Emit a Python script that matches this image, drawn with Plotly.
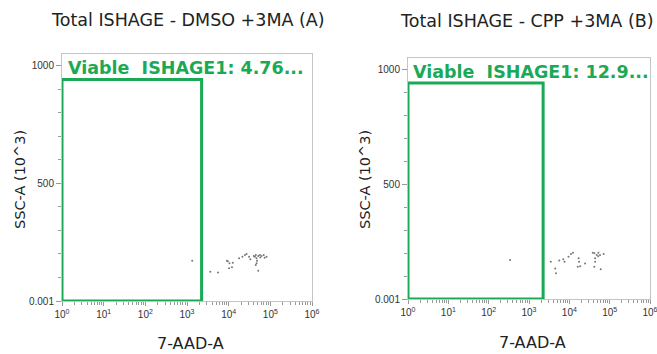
import plotly.graph_objects as go

# ---- data ----
titles = ["Total ISHAGE - DMSO +3MA (A)", "Total ISHAGE - CPP +3MA (B)"]
gate_labels = ["Viable\u00a0 ISHAGE1: 4.76...", "Viable\u00a0 ISHAGE1: 12.9..."]
x_title = "7-AAD-A"
y_title = "SSC-A (10^3)"

gate_x = [1, 2240]
gate_y = [0, 940]

a_x = [1334, 3620, 5540, 9100, 10470, 10230, 12590, 17780, 21380, 24550, 26920,
       30900, 33110, 44670, 51290, 56230, 61660, 46770, 47860, 46770, 44670,
       51290, 69180, 81280, 57540, 42660, 9550, 12000, 40000, 73000]
a_y = [171, 124, 121, 171, 160, 139, 162, 181, 188, 195, 199,
       188, 177, 195, 191, 195, 191, 181, 171, 160, 153,
       128, 195, 188, 185, 188, 169, 143, 191, 184]

b_x = [339, 3470, 4470, 4680, 5620, 7080, 7590, 9550, 10960, 12300, 16980,
       17380, 16220, 18620, 24550, 41690, 47860, 52480, 57540, 70790, 43650,
       43650, 41690, 38020, 52000, 60000]
b_y = [170, 162, 133, 112, 167, 173, 162, 184, 196, 201, 177,
       162, 140, 143, 155, 199, 191, 201, 191, 196, 177,
       162, 140, 201, 186, 129]

W, H = 657, 354
GREEN = "#1aaa55"

def px_x(p):
    return p / W

def px_y(p):
    return 1 - p / H

panels = [
    dict(xd=[px_x(62), px_x(312)], yd=[px_y(301), px_y(54)], xs=a_x, ys=a_y,
         title_xy=(188, 20), xt_xy=(190, 343), yt_xy=(20, 180), gl_xy=(66, 68)),
    dict(xd=[px_x(408), px_x(650)], yd=[px_y(299), px_y(58)], xs=b_x, ys=b_y,
         title_xy=(527, 21), xt_xy=(532, 342), yt_xy=(365, 180), gl_xy=(411, 72)),
]

fig = go.Figure()
annotations = []
major_x = [10 ** k for k in range(0, 7)]
major_x_text = ["10<sup>%d</sup>" % k for k in range(0, 7)]
minor_x = [m * 10 ** k for k in range(0, 6) for m in range(2, 10)]

for i, p in enumerate(panels):
    sfx = "" if i == 0 else str(i + 1)
    xa, ya = "x" + sfx, "y" + sfx
    fig.add_trace(go.Scatter(
        x=[gate_x[0], gate_x[0], gate_x[1], gate_x[1], gate_x[0]],
        y=[gate_y[0], gate_y[1], gate_y[1], gate_y[0], gate_y[0]],
        mode="lines", line=dict(color=GREEN, width=3), xaxis=xa, yaxis=ya,
        cliponaxis=False, hoverinfo="skip", showlegend=False))
    fig.add_trace(go.Scatter(
        x=p["xs"], y=p["ys"], mode="markers",
        marker=dict(color="#777777", size=2), xaxis=xa, yaxis=ya, showlegend=False))
    axis_common = dict(showline=True, linecolor="#c4c4c4", linewidth=1, mirror=True,
                       showgrid=False, zeroline=False, automargin=False,
                       ticklabeloverflow="allow",
                       tickfont=dict(family="Liberation Sans, Arial", size=10, color="#333333"),
                       ticks="outside", tickcolor="#999999", ticklen=5)
    fig.update_layout(**{
        "xaxis" + sfx: dict(axis_common, type="log", range=[0, 6], domain=p["xd"],
                            anchor=ya, tickmode="array", tickvals=major_x,
                            ticktext=major_x_text, ticklen=4,
                            minor=dict(tickmode="array", tickvals=minor_x,
                                       ticks="outside", ticklen=3, tickcolor="#999999")),
        "yaxis" + sfx: dict(axis_common, range=[0, 1048.576], domain=p["yd"],
                            anchor=xa, tickmode="array", tickvals=[0, 500, 1000],
                            ticktext=["0.001", "500", "1000"],
                            minor=dict(tickmode="array", tickvals=list(range(100, 1001, 100)),
                                       ticks="outside", ticklen=3, tickcolor="#999999")),
    })
    annotations.append(dict(text=titles[i], x=px_x(p["title_xy"][0]), y=px_y(p["title_xy"][1]),
                            xref="paper", yref="paper", showarrow=False,
                            xanchor="center", yanchor="middle",
                            font=dict(family="DejaVu Sans", size=17.5, color="#222222")))
    annotations.append(dict(text=x_title, x=px_x(p["xt_xy"][0]), y=px_y(p["xt_xy"][1]),
                            xref="paper", yref="paper", showarrow=False,
                            xanchor="center", yanchor="middle",
                            font=dict(family="DejaVu Sans", size=16, color="#222222")))
    annotations.append(dict(text=y_title, x=px_x(p["yt_xy"][0]), y=px_y(p["yt_xy"][1]),
                            xref="paper", yref="paper", showarrow=False, textangle=-90,
                            xanchor="center", yanchor="middle",
                            font=dict(family="DejaVu Sans", size=14.5, color="#222222")))
    annotations.append(dict(text="<b>" + gate_labels[i] + "</b>", x=px_x(p["gl_xy"][0]),
                            y=px_y(p["gl_xy"][1]), xref="paper", yref="paper",
                            showarrow=False, xanchor="left", yanchor="middle",
                            font=dict(family="DejaVu Sans", size=17.5, color=GREEN)))

fig.update_layout(width=W, height=H, margin=dict(l=0, r=0, t=0, b=0),
                  paper_bgcolor="white", plot_bgcolor="white",
                  annotations=annotations, showlegend=False)
fig.write_html("out.html", config={"displayModeBar": False},
               post_script="document.body.style.margin='0';document.body.style.padding='0';")
